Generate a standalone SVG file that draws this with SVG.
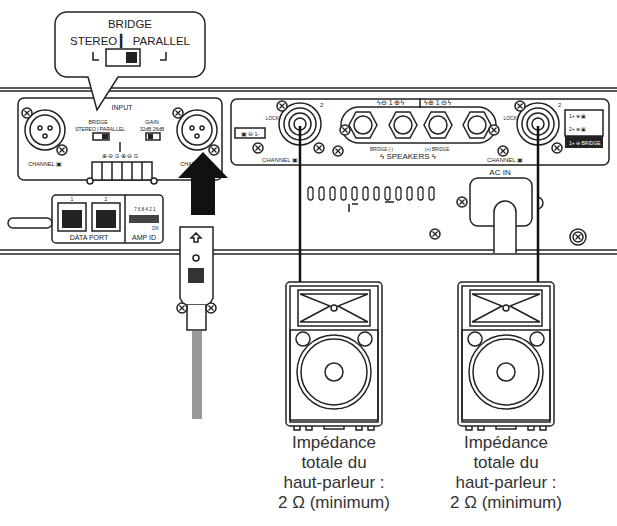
<svg xmlns="http://www.w3.org/2000/svg" width="617" height="526" viewBox="0 0 617 526">
<style>
.s{fill:none;stroke:#222;stroke-width:1.5}
.w{fill:#fff;stroke:#222;stroke-width:1.5}
.t{font-family:"Liberation Sans",Arial,sans-serif;fill:#222}
.lbl{font-family:"Liberation Sans",Arial,sans-serif;fill:#333;font-size:17px;text-anchor:middle}
.v{fill:#fff;stroke:#222;stroke-width:1.3}
</style>
<defs>
<g id="screw"><circle r="5" class="w" stroke-width="1.3"/><path d="M-2.5,-2.5L2.5,2.5M2.5,-2.5L-2.5,2.5" stroke="#222" stroke-width="1.3"/></g>
<g id="xlr"><circle r="20" class="w"/><circle r="15" class="s"/><circle cx="-5" cy="-2" r="2" class="s"/><circle cx="5" cy="-2" r="2" class="s"/><circle cx="0" cy="6" r="2" class="s"/></g>
<g id="spk"><circle r="21" class="w" stroke-width="2"/><circle r="16" class="s"/><circle r="11" class="s"/><circle r="6" class="s"/></g>
<g id="jack"><path d="M-7,-13L7,-13L14,0L7,13L-7,13L-14,0Z" class="w" stroke-width="2"/><circle r="9" class="w" stroke-width="2"/></g>
<rect id="slot" x="0" y="0" width="5" height="13" rx="2.5" class="v"/>
<g id="box"><rect x="-48" y="0" width="96" height="144" rx="4" class="w" stroke-width="2"/><rect x="-44" y="4" width="88" height="136" class="s" stroke-width="1"/><rect x="-36" y="8" width="72" height="36" class="s"/><path d="M-34,12L-4,24L-34,40M34,12L4,24L34,40M-34,12L34,12M-34,40L34,40" class="s" stroke-width="1"/><circle cx="0" cy="26" r="3" class="w"/><rect x="-44" y="48" width="88" height="90" class="s" stroke-width="1"/><circle cx="-31" cy="57" r="7" class="s"/><circle cx="31" cy="57" r="7" class="s"/><circle cx="0" cy="90" r="37" class="s"/><circle cx="0" cy="90" r="33" class="s" stroke-width="1"/><circle cx="0" cy="90" r="9" class="s"/><path d="M-40,144v4h6v-4M-28,144v4h6v-4M22,144v4h6v-4M34,144v4h6v-4M-10,144v3h20v-3" class="s" stroke-width="1"/></g>
</defs>
<rect width="617" height="526" fill="#fff"/>
<g id="chassis">
<path d="M0,88H617M0,91H617M0,250H617M0,254H617" class="s"/>
<rect x="18" y="98" width="204" height="82" rx="6" class="s" stroke-width="1"/>
<rect x="231" y="99" width="378" height="66" rx="6" class="s" stroke-width="1"/>
<rect x="8" y="218" width="44" height="10" rx="5" class="w"/>
<use href="#slot" x="308" y="187"/><use href="#slot" x="319" y="187"/><use href="#slot" x="330" y="187"/><use href="#slot" x="341" y="187"/><use href="#slot" x="352" y="187"/><use href="#slot" x="363" y="187"/><use href="#slot" x="374" y="187"/><use href="#slot" x="385" y="187"/><use href="#slot" x="396" y="187"/><use href="#slot" x="407" y="187"/><use href="#slot" x="418" y="187"/><use href="#slot" x="429" y="187"/>
<path d="M352,204h6M349,204v8M385,202h9" class="s" stroke-width="1"/>
<use href="#screw" x="435" y="234"/>
<circle cx="578" cy="237" r="8" class="s" stroke-width="1"/>
<use href="#screw" x="578" y="237"/>
<rect x="470" y="178" width="62" height="48" rx="8" class="w"/>
<use href="#screw" x="462" y="202"/>
<text x="500" y="175" class="t" font-size="8" text-anchor="middle">AC IN</text>
<path d="M494,253V212a11,11 0 0 1 22,0V253" class="w" stroke-width="2"/>
<path d="M537,197a6,6 0 0 1 0,12" class="s"/>
</g>
<g id="input-panel">
<use href="#xlr" x="45" y="130"/>
<use href="#screw" x="27" y="113"/><use href="#screw" x="62" y="150"/>
<use href="#xlr" x="197" y="130"/>
<use href="#screw" x="178" y="113"/><use href="#screw" x="214" y="150"/>
<text x="45" y="166" class="t" font-size="5.5" text-anchor="middle">CHANNEL ▣</text>
<text x="197" y="166" class="t" font-size="5.5" text-anchor="middle">CHANNEL ▣</text>
<text x="122" y="110" class="t" font-size="7" text-anchor="middle">INPUT</text>
<text x="98" y="124" class="t" font-size="5" text-anchor="middle">BRIDGE</text>
<text x="100" y="131" class="t" font-size="5" text-anchor="middle">STEREO | PARALLEL</text>
<rect x="93" y="133" width="16" height="7" class="w" stroke-width="1"/><rect x="102" y="134" width="6" height="5" fill="#222"/>
<text x="152" y="124" class="t" font-size="5.5" text-anchor="middle">GAIN</text>
<text x="152" y="131" class="t" font-size="5" text-anchor="middle">32dB   26dB</text>
<rect x="146" y="133" width="14" height="7" class="w" stroke-width="1"/><rect x="148" y="134" width="5" height="5" fill="#222"/>
<text x="120" y="158" class="t" font-size="5.5" text-anchor="middle">⊕ ⊖ G ⊕ ⊖ G</text>
<path d="M120,142v10" class="s" stroke-width="1"/>
<rect x="92" y="162" width="60" height="18" class="w"/>
<path d="M102,162v18M112,162v18M122,162v18M132,162v18M142,162v18" class="s" stroke-width="1"/>
<circle cx="90" cy="181" r="3" class="w"/><circle cx="154" cy="181" r="3" class="w"/>
<rect x="52" y="195" width="111" height="48" rx="4" class="w"/>
<path d="M125,195v48" class="s" stroke-width="1"/>
<rect x="58" y="203" width="28" height="28" class="w"/><rect x="62" y="210" width="20" height="18" fill="#222"/>
<rect x="92" y="203" width="28" height="28" class="w"/><rect x="96" y="210" width="20" height="18" fill="#222"/>
<text x="72" y="201" class="t" font-size="5" text-anchor="middle">1</text>
<text x="106" y="201" class="t" font-size="5" text-anchor="middle">2</text>
<text x="89" y="240" class="t" font-size="7" text-anchor="middle">DATA  PORT</text>
<text x="144" y="240" class="t" font-size="7" text-anchor="middle">AMP ID</text>
<rect x="129" y="215" width="30" height="8" fill="#444"/>
<text x="145" y="211" class="t" font-size="4.5" text-anchor="middle">7 6 8 4 2 1</text>
<text x="155" y="230" class="t" font-size="4.5" text-anchor="middle">ON</text>
</g>
<g id="output-panel">
<use href="#spk" x="300" y="124"/>
<use href="#screw" x="282" y="106"/><use href="#screw" x="319" y="148"/>
<use href="#spk" x="538" y="124"/>
<use href="#screw" x="520" y="106"/><use href="#screw" x="557" y="148"/>
<text x="279" y="120" class="t" font-size="5" text-anchor="end">LOCK</text>
<text x="517" y="120" class="t" font-size="5" text-anchor="end">LOCK</text>
<text x="320" y="107" class="t" font-size="6">2</text>
<text x="558" y="107" class="t" font-size="6">2</text>
<rect x="235" y="128" width="30" height="10" class="w" stroke-width="1"/>
<text x="250" y="136" class="t" font-size="5.5" text-anchor="middle">▣ ⊖ 1-</text>
<use href="#screw" x="258" y="148"/>
<rect x="565" y="110" width="38" height="26" class="w" stroke-width="1"/>
<text x="569" y="118" class="t" font-size="5">1+ ⊕ ▣</text>
<text x="569" y="131" class="t" font-size="5">2+ ⊕ ▣</text>
<rect x="565" y="136" width="38" height="12" fill="#222"/>
<text x="569" y="145" font-family="Liberation Sans,Arial,sans-serif" font-size="5" fill="#fff">1+ ⊖ BRIDGE</text>
<rect x="341" y="107" width="155" height="36" rx="18" class="w" stroke-width="1"/>
<use href="#jack" x="363" y="125"/><use href="#jack" x="403" y="125"/><use href="#jack" x="438" y="125"/><use href="#jack" x="477" y="125"/>
<use href="#screw" x="345" y="130"/><use href="#screw" x="494" y="130"/>
<use href="#screw" x="338" y="151"/><use href="#screw" x="503" y="151"/>
<path d="M420,98v10" class="s" stroke-width="1"/>
<text x="377" y="105" class="t" font-size="7">ϟ⊖   1   ⊕ϟ</text>
<text x="424" y="105" class="t" font-size="7">ϟ⊕   1   ⊖ϟ</text>
<text x="408" y="159" class="t" font-size="8" text-anchor="middle">ϟ SPEAKERS ϟ</text>
<text x="370" y="151" class="t" font-size="4.5">BRIDGE  (-)</text>
<text x="425" y="151" class="t" font-size="4.5">(+)   BRIDGE</text>
<text x="280" y="162" class="t" font-size="6" text-anchor="middle">CHANNEL ▣</text>
<text x="505" y="162" class="t" font-size="6" text-anchor="middle">CHANNEL ▣</text>
</g>
<g id="callout">
<path d="M67,12H193a12,12 0 0 1 12,12V65a12,12 0 0 1 -12,12H118L97,110L88,77H67a12,12 0 0 1 -12,-12V24a12,12 0 0 1 12,-12Z" class="w"/>
<text x="130" y="28" class="t" font-size="11.5" text-anchor="middle">BRIDGE</text>
<text x="130" y="45" class="t" font-size="11.5" text-anchor="middle">STEREO ▎ PARALLEL</text>
<path d="M93,52v8h6M166,52v8h-6" class="s"/>
<rect x="106" y="49" width="34" height="17" class="w"/>
<rect x="126" y="52" width="11" height="11" fill="#222"/>
</g>
<g id="power-plug">
<path d="M203,152L228,178H215V215H191V178H178Z" fill="#111"/>
<path d="M180,227H213V298L209,305H184L180,298Z" class="w" stroke-width="2"/>
<path d="M196,233l5,5h-3v4h-4v-4h-3Z" class="w"/>
<circle cx="196" cy="258" r="3" class="w"/>
<rect x="188" y="268" width="16" height="15" fill="#333"/>
<path d="M187,305V330H206V305" class="w"/>
<use href="#screw" x="182" y="308"/><use href="#screw" x="211" y="308"/>
<rect x="192" y="331" width="10" height="88" fill="#999"/>
</g>
<g id="connectors">
<path d="M300,126V283M538,126V283" stroke="#111" stroke-width="2.5" fill="none"/>
</g>
<g id="speaker-left">
<use href="#box" x="334" y="282"/>
<text class="lbl" x="334" y="448">Impédance</text>
<text class="lbl" x="334" y="468">totale du</text>
<text class="lbl" x="334" y="488">haut-parleur :</text>
<text class="lbl" x="334" y="508">2 Ω (minimum)</text>
</g>
<g id="speaker-right">
<use href="#box" x="506" y="282"/>
<text class="lbl" x="506" y="448">Impédance</text>
<text class="lbl" x="506" y="468">totale du</text>
<text class="lbl" x="506" y="488">haut-parleur :</text>
<text class="lbl" x="506" y="508">2 Ω (minimum)</text>
</g>
</svg>
